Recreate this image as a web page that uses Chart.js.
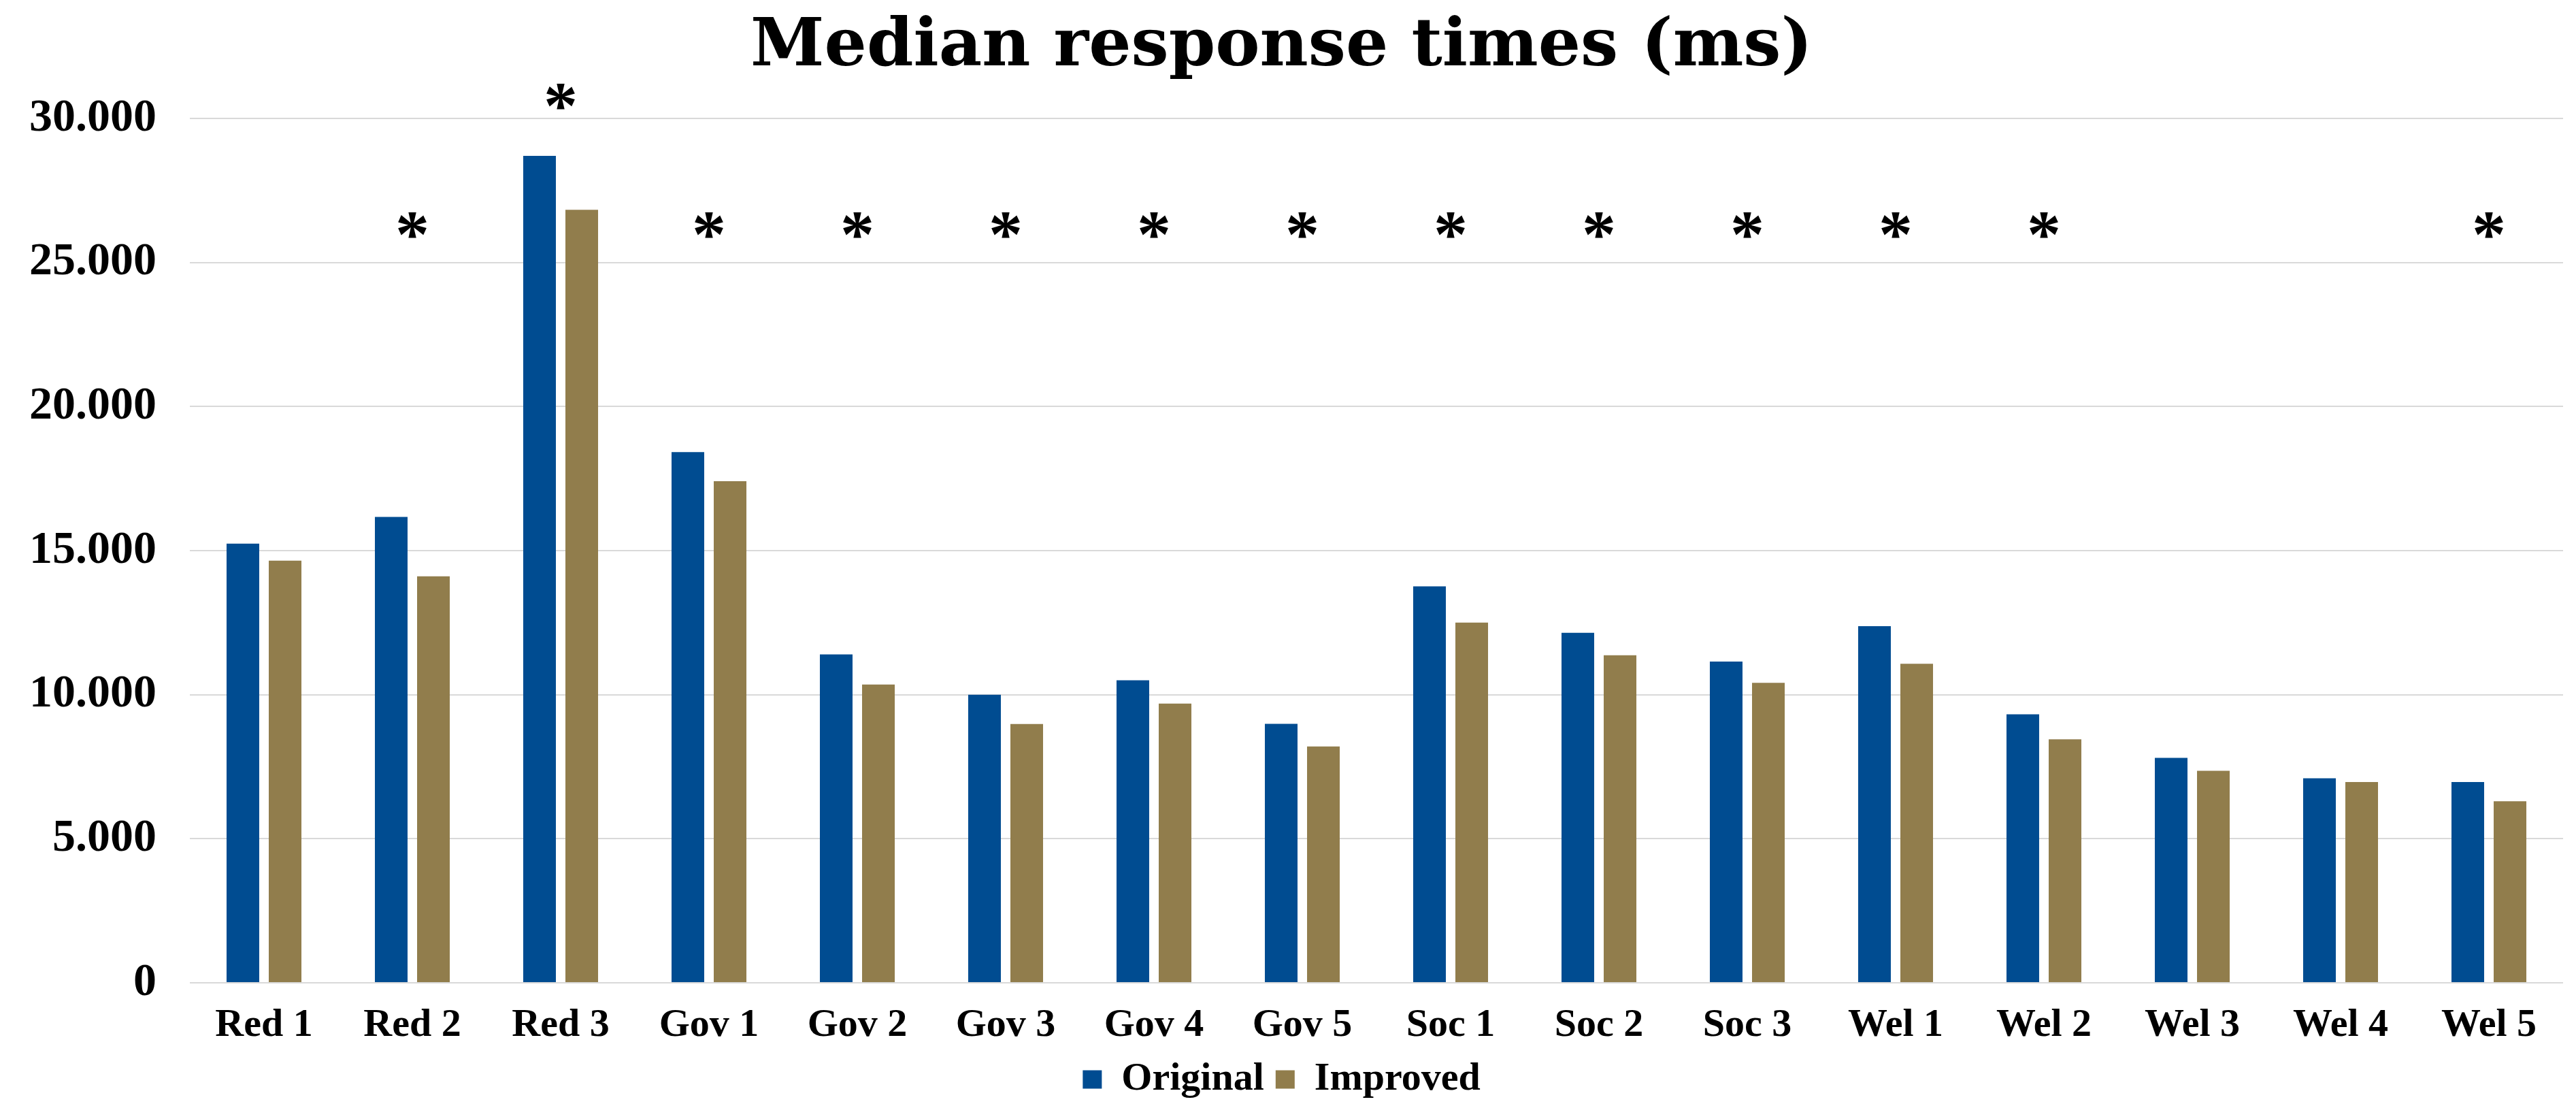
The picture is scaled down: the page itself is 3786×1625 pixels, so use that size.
<!DOCTYPE html>
<html>
<head>
<meta charset="utf-8">
<script src="https://cdn.jsdelivr.net/npm/chart.js@4/dist/chart.umd.min.js"></script>
<style>
  html, body { margin: 0; padding: 0; background: #ffffff; }
  #wrap { width: 3786px; height: 1625px; }
</style>
</head>
<body>
<div id="wrap"><canvas id="chart" width="3786" height="1625"></canvas></div>
<script>
// Tasks, grouped by domain
const categories = ['Red 1', 'Red 2', 'Red 3', 'Gov 1', 'Gov 2', 'Gov 3', 'Gov 4', 'Gov 5',
                    'Soc 1', 'Soc 2', 'Soc 3', 'Wel 1', 'Wel 2', 'Wel 3', 'Wel 4', 'Wel 5'];

// Median response times in milliseconds
const originalTimes = [15240, 16170, 28700, 18420, 11400, 10000, 10500, 8990,
                       13760, 12150, 11150, 12380, 9320, 7810, 7100, 6970];
const improvedTimes = [14650, 14110, 26830, 17410, 10350, 8980, 9690, 8200,
                       12500, 11370, 10410, 11070, 8450, 7360, 6970, 6300];

// Tasks where the difference is statistically significant
const significant = [false, true, true, true, true, true, true, true,
                     true, true, true, true, true, false, false, true];

const yTicks = [0, 5000, 10000, 15000, 20000, 25000, 30000];

const seriesNames = ['Original', 'Improved'];
const BLUE = '#004C91';
const GOLD = '#917D4C';
const FONT = "'Liberation Serif', 'Times New Roman', serif";
const TITLE_FONT = "'DejaVu Serif', Georgia, serif";

// Thousands separated with a dot: 30000 -> "30.000"
function fmt(v) {
  return String(Math.round(v)).replace(/\B(?=(\d{3})+(?!\d))/g, '.');
}

// Draws an asterisk above every significant task
const significanceMarks = {
  id: 'significanceMarks',
  afterDatasetsDraw(chart) {
    const ctx = chart.ctx;
    const x = chart.scales.x;
    const y = chart.scales.y;
    ctx.save();
    ctx.font = 'bold 100px ' + FONT;
    ctx.fillStyle = '#000000';
    ctx.textAlign = 'center';
    ctx.textBaseline = 'alphabetic';
    const m = ctx.measureText('*');
    const inkShift = (m.actualBoundingBoxAscent - m.actualBoundingBoxDescent) / 2;
    categories.forEach((c, i) => {
      if (!significant[i]) return;
      const top = Math.max(originalTimes[i], improvedTimes[i]);
      const level = Math.max(26300, top + 2050);
      ctx.fillText('*', x.getPixelForValue(i), y.getPixelForValue(level) + inkShift);
    });
    ctx.restore();
  }
};

new Chart(document.getElementById('chart'), {
  type: 'bar',
  data: {
    labels: categories,
    datasets: [
      {
        label: seriesNames[0],
        data: originalTimes,
        backgroundColor: BLUE,
        categoryPercentage: 0.569,
        barPercentage: 0.774
      },
      {
        label: seriesNames[1],
        data: improvedTimes,
        backgroundColor: GOLD,
        categoryPercentage: 0.569,
        barPercentage: 0.774
      }
    ]
  },
  options: {
    responsive: false,
    animation: false,
    devicePixelRatio: 1,
    layout: { padding: { left: 0, right: 19, top: 0, bottom: 0 } },
    plugins: {
      title: {
        display: true,
        text: 'Median response times (ms)',
        color: '#000000',
        font: { family: TITLE_FONT, size: 98, weight: 'bold', lineHeight: 1 },
        padding: { top: 22, bottom: 54 }
      },
      legend: {
        display: true,
        position: 'bottom',
        labels: {
          color: '#000000',
          font: { family: FONT, size: 58, weight: 'bold' },
          boxWidth: 28,
          boxHeight: 27,
          padding: 17
        }
      },
      tooltip: { enabled: false }
    },
    scales: {
      x: {
        grid: { display: false, drawTicks: false },
        border: { display: false },
        ticks: {
          color: '#000000',
          font: { family: FONT, size: 58, weight: 'bold' },
          padding: 28,
          maxRotation: 0,
          autoSkip: false
        },
        afterFit(scale) { scale.height = 96; }
      },
      y: {
        min: 0,
        max: 30000,
        afterBuildTicks(scale) { scale.ticks = yTicks.map(v => ({ value: v })); },
        grid: { color: '#D9D9D9', lineWidth: 2, drawTicks: false },
        border: { display: false },
        ticks: {
          color: '#000000',
          font: { family: FONT, size: 68, weight: 'bold' },
          padding: 49,
          callback: (v) => fmt(v)
        },
        afterFit(scale) { scale.width = 279; }
      }
    }
  },
  plugins: [significanceMarks]
});
</script>
</body>
</html>
